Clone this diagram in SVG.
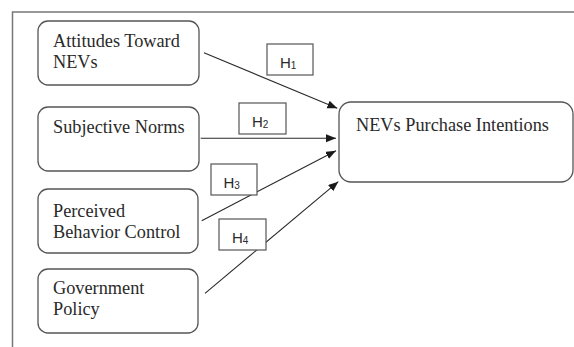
<svg xmlns="http://www.w3.org/2000/svg" width="574" height="347" viewBox="0 0 574 347">
<style>
.node{fill:#fff;stroke:#555;stroke-width:1.3}
.t{font-family:"Liberation Serif","Times New Roman",serif;font-size:18.3px;fill:#2a2a2a}
.conn{stroke:#2a2a2a;stroke-width:1.1;fill:none}
.hb{fill:#fff;stroke:#555;stroke-width:1.2}
.h{font-family:"Liberation Sans",Arial,sans-serif;font-size:15px;fill:#2a2a2a}
.sub{font-size:10px}
</style>
<defs>
<marker id="ah" markerUnits="userSpaceOnUse" markerWidth="11" markerHeight="9" refX="10" refY="4" orient="auto">
<path d="M0,0 L10,4 L0,8 z" fill="#1a1a1a"/>
</marker>
</defs>
<rect width="574" height="347" fill="#fff"/>
<g id="frame" stroke="#777" stroke-width="1.5" fill="none">
<path d="M12.5,347 V12 H574"/>
</g>
<g id="n1">
<rect class="node" x="38" y="21" width="161" height="64" rx="10"/>
<text class="t" x="53" y="47">Attitudes  Toward</text>
<text class="t" x="53" y="68">NEVs</text>
</g>
<g id="n2">
<rect class="node" x="38" y="107" width="161" height="64" rx="10"/>
<text class="t" x="53" y="133">Subjective Norms</text>
</g>
<g id="n3">
<rect class="node" x="38" y="189" width="160" height="64" rx="10"/>
<text class="t" x="53" y="216.5">Perceived</text>
<text class="t" x="53" y="237.5">Behavior Control</text>
</g>
<g id="n4">
<rect class="node" x="38" y="269" width="160" height="64" rx="10"/>
<text class="t" x="53" y="294">Government</text>
<text class="t" x="53" y="315">Policy</text>
</g>
<g id="target">
<rect class="node" x="339" y="102" width="234" height="80" rx="12"/>
<text class="t" x="356" y="130.5">NEVs Purchase Intentions</text>
</g>
<g id="connectors">
<line class="conn" x1="204" y1="52.7" x2="337.3" y2="108.3" marker-end="url(#ah)"/>
<line class="conn" x1="200.7" y1="138.3" x2="336" y2="138.3" marker-end="url(#ah)"/>
<line class="conn" x1="201.7" y1="220.7" x2="336" y2="150.7" marker-end="url(#ah)"/>
<line class="conn" x1="205" y1="293.3" x2="338.3" y2="181.7" marker-end="url(#ah)"/>
</g>
<g id="labels">
<g id="h1"><rect class="hb" x="267" y="44" width="46" height="31"/><text class="h" x="280" y="68">H<tspan class="sub" dy="1">1</tspan></text></g>
<g id="h2"><rect class="hb" x="239" y="103" width="47" height="31"/><text class="h" x="252" y="126.5">H<tspan class="sub" dy="1">2</tspan></text></g>
<g id="h3"><rect class="hb" x="211" y="164" width="46" height="31"/><text class="h" x="223.5" y="187.5">H<tspan class="sub" dy="1">3</tspan></text></g>
<g id="h4"><rect class="hb" x="219" y="219" width="47" height="31"/><text class="h" x="232" y="242.5">H<tspan class="sub" dy="1">4</tspan></text></g>
</g>
</svg>
